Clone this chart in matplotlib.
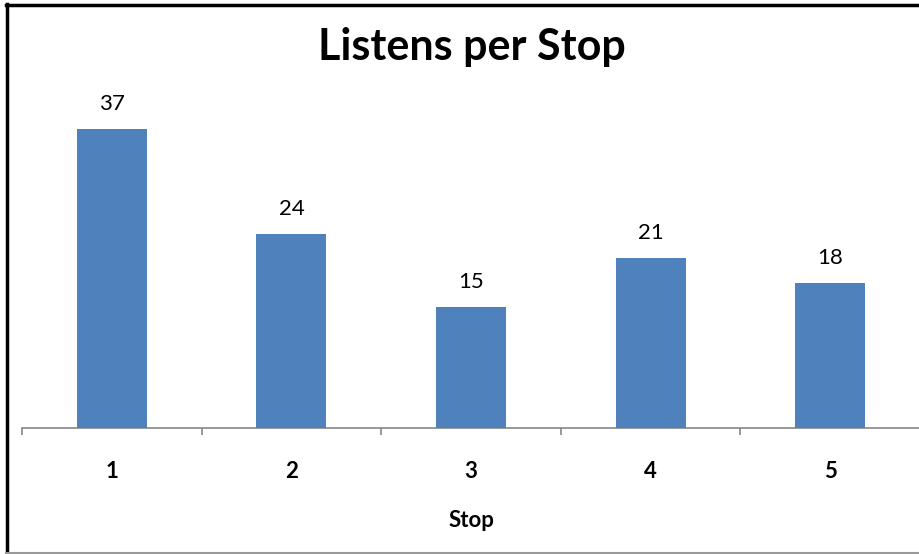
import numpy as np
import matplotlib
matplotlib.use("Agg")
import matplotlib.pyplot as plt
from matplotlib.lines import Line2D

plt.rcParams['font.family'] = ['Lato', 'DejaVu Sans']

stops = ['1', '2', '3', '4', '5']
listens = [37, 24, 15, 21, 18]

bar_color = '#4F81BD'
axis_color = '#868686'


def main():
    fig = plt.figure(figsize=(9.2, 5.54), dpi=100)
    W, H = 920.0, 554.0
    # plot area in pixels: x 22..920, baseline at y=428
    ax = fig.add_axes([22 / W, 126 / H, 898 / W, 348 / H])

    x = np.arange(len(stops))
    ax.bar(x, listens, width=0.39, color=bar_color, zorder=3)
    for xi, v in zip(x, listens):
        ax.annotate(str(v), (xi, v), xytext=(0, 25), textcoords='offset pixels',
                    ha='center', va='center', fontsize=16, color='black')

    ax.set_xlim(-0.5, len(stops) - 0.5)
    ax.set_ylim(0, 348 / 8.08)

    for side in ['top', 'right', 'left']:
        ax.spines[side].set_visible(False)
    ax.spines['bottom'].set_color(axis_color)
    ax.spines['bottom'].set_linewidth(1.2)
    ax.set_yticks([])

    # tick marks between categories, labels at the centres
    ax.set_xticks(np.arange(-0.5, len(stops), 1.0))
    ax.set_xticklabels([])
    ax.tick_params(axis='x', which='major', length=5, color=axis_color, width=1.2)
    ax.set_xticks(x, minor=True)
    ax.set_xticklabels(stops, minor=True, fontsize=16, fontweight='bold')
    ax.tick_params(axis='x', which='minor', length=0, pad=24)

    ax.set_xlabel('Stop', fontsize=16, fontweight='bold', labelpad=20)
    fig.text(472 / W, 1 - 47 / H, 'Listens per Stop', ha='center', va='center',
             fontsize=31, fontweight='bold')

    # outer frame
    fig.add_artist(Line2D([7 / W, 7 / W], [0, 1 - 4 / H], transform=fig.transFigure,
                          color='black', linewidth=2.5))
    fig.add_artist(Line2D([6 / W, 1], [1 - 4.5 / H, 1 - 4.5 / H], transform=fig.transFigure,
                          color='black', linewidth=2.5))
    fig.add_artist(Line2D([6 / W, 1], [1.5 / H, 1.5 / H], transform=fig.transFigure,
                          color='#999999', linewidth=1.5))

    fig.savefig('out.png', dpi=100)


if __name__ == "__main__":
    main()
